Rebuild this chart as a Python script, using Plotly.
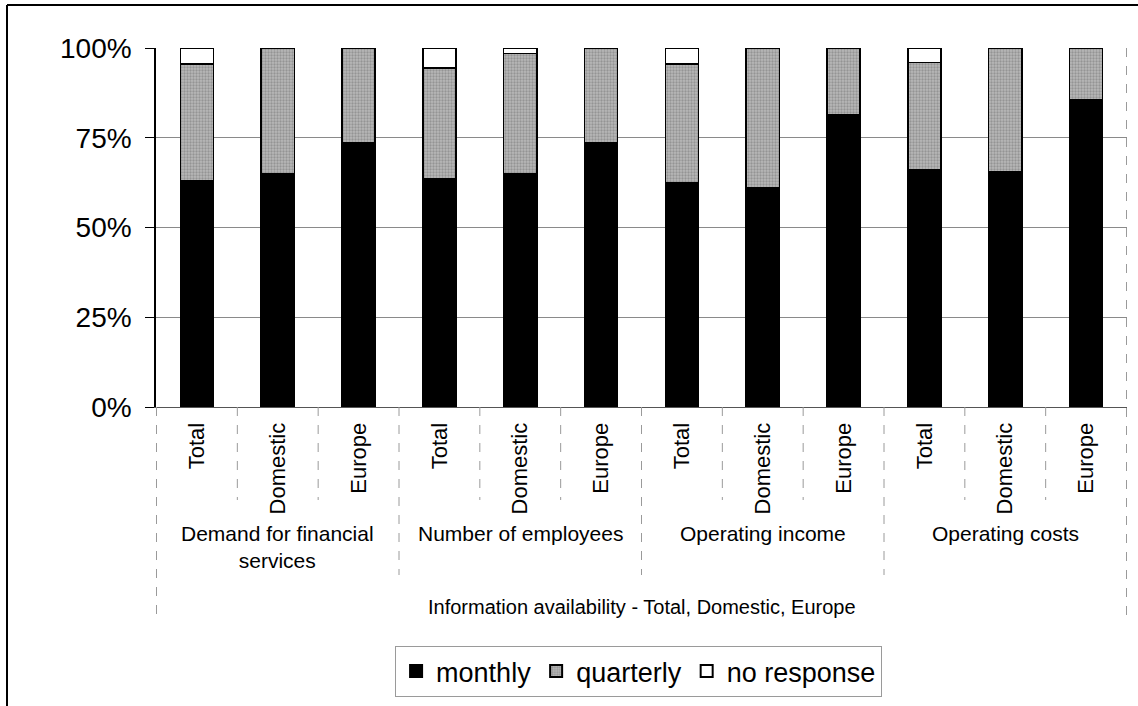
import plotly.graph_objects as go

groups = ["Demand for financial<br>services", "Number of employees", "Operating income", "Operating costs"]
subs = ["Total", "Domestic", "Europe"]
categories = [f"{g}|{s}" for g in groups for s in subs]
sub_labels = [s for g in groups for s in subs]

monthly = [63, 65, 73.5, 63.5, 65, 73.5, 62.5, 61, 81.5, 66, 65.5, 85.5]
quarterly = [32.5, 35, 26.5, 31, 33.5, 26.5, 33, 39, 18.5, 30, 34.5, 14.5]
no_response = [4.5, 0, 0, 5.5, 1.5, 0, 4.5, 0, 0, 4, 0, 0]

y_ticks = [0, 25, 50, 75, 100]
axis_title = "Information availability - Total, Domestic, Europe"

FONT = "Arial, Liberation Sans, sans-serif"

fig = go.Figure()
fig.add_trace(go.Bar(
    x=categories, y=monthly, name="monthly",
    marker=dict(color="#000000", line=dict(color="#000000", width=1.5)),
))
fig.add_trace(go.Bar(
    x=categories, y=quarterly, name="quarterly",
    marker=dict(color="#a8a8a8", line=dict(color="#000000", width=1.5),
                pattern=dict(shape=".", fgcolor="#707070", bgcolor="#b8b8b8", size=3, solidity=0.45)),
))
fig.add_trace(go.Bar(
    x=categories, y=no_response, name="no response",
    marker=dict(color="#ffffff", line=dict(color="#000000", width=1.5)),
))

# plot area pixel geometry helpers
H = 359.0

def py(p):
    return (407 - p) / H

shapes = []
n = len(categories)
# separators under axis
for i in range(1, n):
    bottom = py(575) if i % 3 == 0 else py(500)
    shapes.append(dict(type="line", xref="x", yref="paper", x0=i - 0.5, x1=i - 0.5,
                       y0=0, y1=bottom, line=dict(color="#9a9a9a", width=1, dash="dash")))
for xe in [-0.5, n - 0.5]:
    shapes.append(dict(type="line", xref="x", yref="paper", x0=xe, x1=xe,
                       y0=0 if xe < 0 else 1, y1=py(618), line=dict(color="#9a9a9a", width=1, dash="dash")))
# outer frame (left and top)
shapes.append(dict(type="line", xref="paper", yref="paper", x0=(7 - 156) / 971, x1=(7 - 156) / 971,
                   y0=py(706), y1=py(5), line=dict(color="#000000", width=2)))
shapes.append(dict(type="line", xref="paper", yref="paper", x0=(7 - 156) / 971, x1=(1138 - 156) / 971,
                   y0=py(5), y1=py(5), line=dict(color="#000000", width=2)))

annotations = []
for gi, g in enumerate(groups):
    annotations.append(dict(xref="x", yref="paper", x=categories[gi * 3 + 1], y=py(520),
                            text=g, showarrow=False, yanchor="top", xanchor="center",
                            font=dict(family=FONT, size=21, color="#000000")))
annotations.append(dict(xref="paper", yref="paper", x=0.5, y=py(607), text=axis_title,
                        showarrow=False, yanchor="middle", xanchor="center",
                        font=dict(family=FONT, size=20, color="#000000")))

fig.update_layout(
    barmode="stack",
    bargap=0.59,
    width=1138, height=706,
    margin=dict(l=156, r=11, t=48, b=299, autoexpand=False),
    paper_bgcolor="#ffffff", plot_bgcolor="#ffffff",
    font=dict(family=FONT, color="#000000"),
    shapes=shapes,
    annotations=annotations,
    legend=dict(orientation="h", x=0.497, xanchor="center", y=py(646), yanchor="top",
                traceorder="normal",
                font=dict(family=FONT, size=27, color="#000000"),
                bordercolor="#9a9a9a", borderwidth=1, bgcolor="#ffffff",
                itemsizing="constant", itemwidth=30),
    xaxis=dict(type="category", tickmode="array", tickvals=categories, ticktext=sub_labels,
               tickangle=-90, ticks="", showgrid=False, showline=True, linecolor="#555555", linewidth=1,
               tickfont=dict(family=FONT, size=22, color="#000000"), ticklabelstandoff=6),
    yaxis=dict(range=[0, 100], tickvals=y_ticks, ticktext=[f"{v}%" for v in y_ticks],
               ticks="outside", ticklen=9, tickcolor="#000000", tickwidth=1,
               showline=True, linecolor="#000000", linewidth=1.5,
               showgrid=True, gridcolor="#8a8a8a", gridwidth=1,
               tickfont=dict(family=FONT, size=28, color="#000000"), ticklabelstandoff=8,
               zeroline=False),
)

fig.write_html("out.html", config={"displayModeBar": False},
               post_script="document.body.style.margin='0';")
